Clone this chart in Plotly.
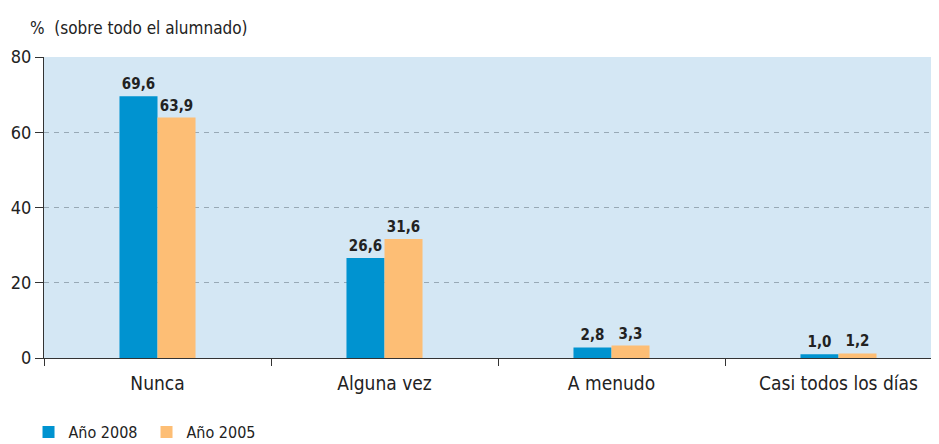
import plotly.graph_objects as go

categories = ["Nunca", "Alguna vez", "A menudo", "Casi todos los días"]
anio_2008 = [69.6, 26.6, 2.8, 1.0]
anio_2005 = [63.9, 31.6, 3.3, 1.2]
y_ticks = [0, 20, 40, 60, 80]

FONT = "DejaVu Sans Condensed, Liberation Sans Narrow, Arial Narrow, sans-serif"

def fmt(v):
    return f"{v:.1f}".replace(".", ",")

fig = go.Figure()
fig.add_trace(go.Bar(
    name="Año 2008", x=categories, y=anio_2008,
    marker=dict(color="#0093d0", line=dict(width=0)),
    text=[fmt(v) for v in anio_2008], textposition="outside",
    textfont=dict(family=FONT, size=15, color="#222222"),
    texttemplate="<b>%{text}</b>", cliponaxis=False,
))
fig.add_trace(go.Bar(
    name="Año 2005", x=categories, y=anio_2005,
    marker=dict(color="#fdbe75", line=dict(width=0)),
    text=[fmt(v) for v in anio_2005], textposition="outside",
    textfont=dict(family=FONT, size=15, color="#222222"),
    texttemplate="<b>%{text}</b>", cliponaxis=False,
))

# the page body has an 8px margin, so the figure is sized to fit the window
fig.update_layout(
    width=931, height=436,
    margin=dict(l=36, r=0, t=49, b=86, autoexpand=False),
    paper_bgcolor="white",
    plot_bgcolor="#d4e7f4",
    barmode="group",
    bargap=0.665,
    bargroupgap=0,
    font=dict(family=FONT, size=16, color="#222222"),
    showlegend=True,
    legend=dict(orientation="h", x=-0.0173, xref="paper", xanchor="left", y=-0.19,
                yanchor="top", font=dict(family=FONT, size=16, color="#222222"),
                itemwidth=30, traceorder="normal", entrywidth=73,
                bgcolor="rgba(0,0,0,0)"),
    annotations=[dict(text="%  (sobre todo el alumnado)", xref="paper", yref="paper",
                      x=-0.018, y=1.058, xanchor="left", yanchor="bottom",
                      showarrow=False, font=dict(family=FONT, size=17, color="#222222"))],
)
fig.update_xaxes(
    automargin=False,
    range=[-0.5, 3.4427],
    showline=True, linecolor="#333333", linewidth=1,
    ticks="outside", tickson="boundaries", ticklen=7, tickcolor="#333333",
    tickfont=dict(family=FONT, size=19, color="#222222"),
    ticklabelstandoff=8,
    showgrid=False, zeroline=False,
)
fig.update_yaxes(
    automargin=False,
    range=[0, 80], tickvals=y_ticks, showline=True, linecolor="#333333", linewidth=1,
    ticks="outside", ticklen=8, tickcolor="#333333",
    tickfont=dict(family=FONT, size=18, color="#222222"),
    showgrid=True, gridcolor="#98a9b5", griddash="5px,5px", gridwidth=1,
    zeroline=False,
)
fig.write_html("out.html")
